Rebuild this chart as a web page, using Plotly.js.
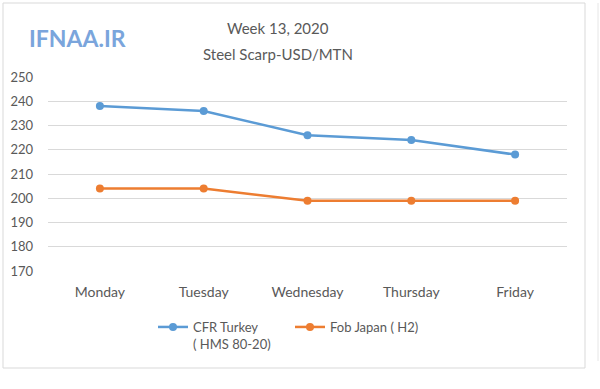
<!DOCTYPE html>
<html><head><meta charset="utf-8">
<script src="https://cdn.plot.ly/plotly-3.0.1.min.js"></script>
<style>body{margin:0;background:#fff}#c{width:600px;height:389px}</style>
</head><body><div id="c"></div>
<script>
const days = ["Monday","Tuesday","Wednesday","Thursday","Friday"];
const cfrTurkey = [238, 236, 226, 224, 218];
const fobJapan = [204, 204, 199, 199, 199];
const yTicks = [170,180,190,200,210,220,230,240,250];

const L = 48, R = 567, T = 77, B = 271;
const W = R - L, H = B - T;
const px = x => (x - L) / W;
const py = y => (B - y) / H;

const traces = [
  {x: days, y: cfrTurkey, name: "CFR Turkey<br>( HMS 80-20)", type: "scatter", mode: "lines+markers",
   line: {color: "#5B9BD5", width: 2.5}, marker: {color: "#5B9BD5", size: 8}},
  {x: days, y: fobJapan, name: "Fob Japan ( H2)", type: "scatter", mode: "lines+markers",
   line: {color: "#ED7D31", width: 2.5}, marker: {color: "#ED7D31", size: 8}}
];

const font = {family: "Lato, 'Open Sans', sans-serif", size: 12, color: "#595959"};
const layout = {
  width: 600, height: 389,
  margin: {l: L, r: 600 - R, t: T, b: 389 - B},
  paper_bgcolor: "#fff", plot_bgcolor: "#fff",
  font: font,
  showlegend: true,
  legend: {orientation: "h", x: px(153), y: py(312), xanchor: "left", yanchor: "top",
           font: {family: font.family, size: 13, color: "#595959"}, itemwidth: 30, valign: "top",
           entrywidth: 92, entrywidthmode: "pixels"},
  xaxis: {type: "category", range: [-0.5, 4.5], showgrid: false, zeroline: false, showline: false, ticks: "",
          tickfont: {size: 14, color: "#595959"}, ticklabelstandoff: 11, fixedrange: true},
  yaxis: {range: [170, 250], tickvals: yTicks, ticktext: yTicks.map(String), showgrid: true,
          gridcolor: "#D9D9D9", gridwidth: 1, zeroline: false, showline: false, ticks: "",
          tickfont: {size: 13, color: "#595959"}, ticklabelstandoff: 14, fixedrange: true},
  annotations: [
    {text: "Week 13, 2020", xref: "paper", yref: "paper", x: px(278), y: py(28), xanchor: "center", yanchor: "middle", showarrow: false,
     font: {family: font.family, size: 15, color: "#595959"}},
    {text: "Steel Scarp-USD/MTN", xref: "paper", yref: "paper", x: px(278), y: py(54), xanchor: "center", yanchor: "middle", showarrow: false,
     font: {family: font.family, size: 15, color: "#595959"}},
    {text: "<b>IFNAA.IR</b>", xref: "paper", yref: "paper", x: px(77), y: py(38), xanchor: "center", yanchor: "middle", showarrow: false,
     font: {family: "Lato, sans-serif", size: 23, color: "#7AA5DC"}}
  ],
  shapes: [
    {type: "rect", xref: "paper", yref: "paper", x0: px(3), x1: px(585), y0: py(3), y1: py(368),
     line: {color: "#D9D9D9", width: 1}, layer: "below"},
    {type: "line", xref: "paper", yref: "paper", x0: px(598), x1: px(598), y0: py(3), y1: py(361),
     line: {color: "#E6E6E6", width: 1}, layer: "below"}
  ]
};
Plotly.newPlot("c", traces, layout, {displayModeBar: false, staticPlot: true});
</script></body></html>
